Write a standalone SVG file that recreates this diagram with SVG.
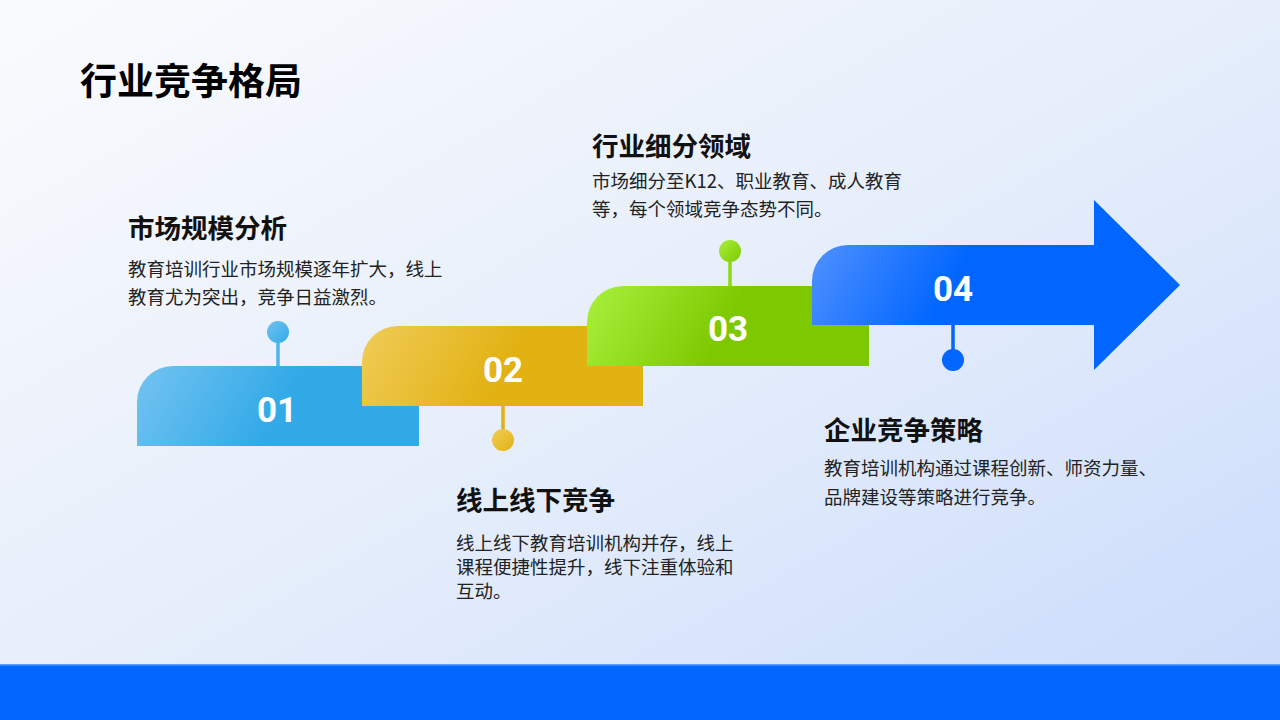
<svg xmlns="http://www.w3.org/2000/svg" width="1280" height="720" viewBox="0 0 1280 720">
<defs>
<linearGradient id="bg" x1="0" y1="0" x2="1" y2="1">
<stop offset="0" stop-color="#FAFBFD"/>
<stop offset="0.5" stop-color="#E6EEFB"/>
<stop offset="1" stop-color="#C9DBFB"/>
</linearGradient>
<linearGradient id="g1" gradientUnits="userSpaceOnUse" x1="137" y1="366" x2="262" y2="436">
<stop offset="0" stop-color="#74C3F1"/>
<stop offset="1" stop-color="#33AAE8"/>
</linearGradient>
<linearGradient id="g2" gradientUnits="userSpaceOnUse" x1="362" y1="326" x2="487" y2="396">
<stop offset="0" stop-color="#F0CC58"/>
<stop offset="1" stop-color="#E2B213"/>
</linearGradient>
<linearGradient id="g3" gradientUnits="userSpaceOnUse" x1="587" y1="286" x2="712" y2="356">
<stop offset="0" stop-color="#AAF03E"/>
<stop offset="1" stop-color="#7DC800"/>
</linearGradient>
<linearGradient id="g4" gradientUnits="userSpaceOnUse" x1="812" y1="245" x2="937" y2="315">
<stop offset="0" stop-color="#5090FF"/>
<stop offset="1" stop-color="#0066FF"/>
</linearGradient>
<linearGradient id="p1" x1="0" y1="0" x2="1" y2="1"><stop offset="0" stop-color="#72C2F0"/><stop offset="1" stop-color="#33AAE8"/></linearGradient>
<linearGradient id="p2" x1="0" y1="0" x2="1" y2="1"><stop offset="0" stop-color="#F0CC56"/><stop offset="1" stop-color="#E2B213"/></linearGradient>
<linearGradient id="p3" x1="0" y1="0" x2="1" y2="1"><stop offset="0" stop-color="#A8F03C"/><stop offset="1" stop-color="#7DC800"/></linearGradient>
</defs>
<style>
.title{font-family:"Noto Sans CJK SC","Noto Sans",sans-serif;font-weight:700;font-size:37px;fill:#000}
.head{font-family:"Noto Sans CJK SC","Noto Sans",sans-serif;font-weight:700;font-size:26.5px;fill:#111}
.body{font-family:"Noto Sans CJK SC","Noto Sans",sans-serif;font-weight:400;font-size:18.5px;fill:#222}
.num{font-family:Roboto,"Liberation Sans",sans-serif;font-weight:700;font-size:35px;fill:#fff;text-anchor:middle}
.stem{stroke-width:3.5}
</style>
<rect x="0" y="0" width="1280" height="720" fill="url(#bg)"/>
<rect x="0" y="664" width="1280" height="56" fill="#0066FF"/>
<rect x="0" y="664" width="1280" height="1.5" fill="#5A9EFF"/>
<text class="title" x="80" y="95">行业竞争格局</text>

<g id="connectors">
<line class="stem" x1="278" y1="340" x2="278" y2="367" stroke="#4DB4EC"/>
<line class="stem" x1="503" y1="405" x2="503" y2="432" stroke="#E2B213"/>
<line class="stem" x1="730" y1="259" x2="730" y2="287" stroke="#8DD814"/>
<line class="stem" x1="953" y1="324" x2="953" y2="352" stroke="#0066FF"/>
</g>

<g id="node1">
<path d="M137 446 V402 A36 36 0 0 1 173 366 H419 V446 Z" fill="url(#g1)"/>
<circle cx="278" cy="332" r="11" fill="url(#p1)"/>
<text class="num" x="277" y="422">01</text>
<text class="head" x="128" y="238">市场规模分析</text>
<text class="body" x="128" y="276">教育培训行业市场规模逐年扩大，线上</text>
<text class="body" x="128" y="304">教育尤为突出，竞争日益激烈。</text>
</g>

<g id="node2">
<path d="M362 406 V362 A36 36 0 0 1 398 326 H643 V406 Z" fill="url(#g2)"/>
<circle cx="503" cy="440" r="11" fill="url(#p2)"/>
<text class="num" x="503" y="382">02</text>
<text class="head" x="456" y="510">线上线下竞争</text>
<text class="body" x="456" y="550">线上线下教育培训机构并存，线上</text>
<text class="body" x="456" y="574">课程便捷性提升，线下注重体验和</text>
<text class="body" x="456" y="598">互动。</text>
</g>

<g id="node3">
<path d="M587 366 V322 A36 36 0 0 1 623 286 H869 V366 Z" fill="url(#g3)"/>
<circle cx="730" cy="251" r="11" fill="url(#p3)"/>
<text class="num" x="728" y="341">03</text>
<text class="head" x="592" y="156">行业细分领域</text>
<text class="body" x="592" y="188">市场细分至K12、职业教育、成人教育</text>
<text class="body" x="592" y="216">等，每个领域竞争态势不同。</text>
</g>

<g id="node4">
<path d="M812 325 V281 A36 36 0 0 1 848 245 H1094 V325 Z" fill="url(#g4)"/>
<polygon points="1094,200 1180,285 1094,370" fill="#0066FF"/>
<circle cx="953" cy="360" r="11" fill="#0066FF"/>
<text class="num" x="953" y="301">04</text>
<text class="head" x="824" y="440">企业竞争策略</text>
<text class="body" x="824" y="475">教育培训机构通过课程创新、师资力量、</text>
<text class="body" x="824" y="504">品牌建设等策略进行竞争。</text>
</g>
</svg>
